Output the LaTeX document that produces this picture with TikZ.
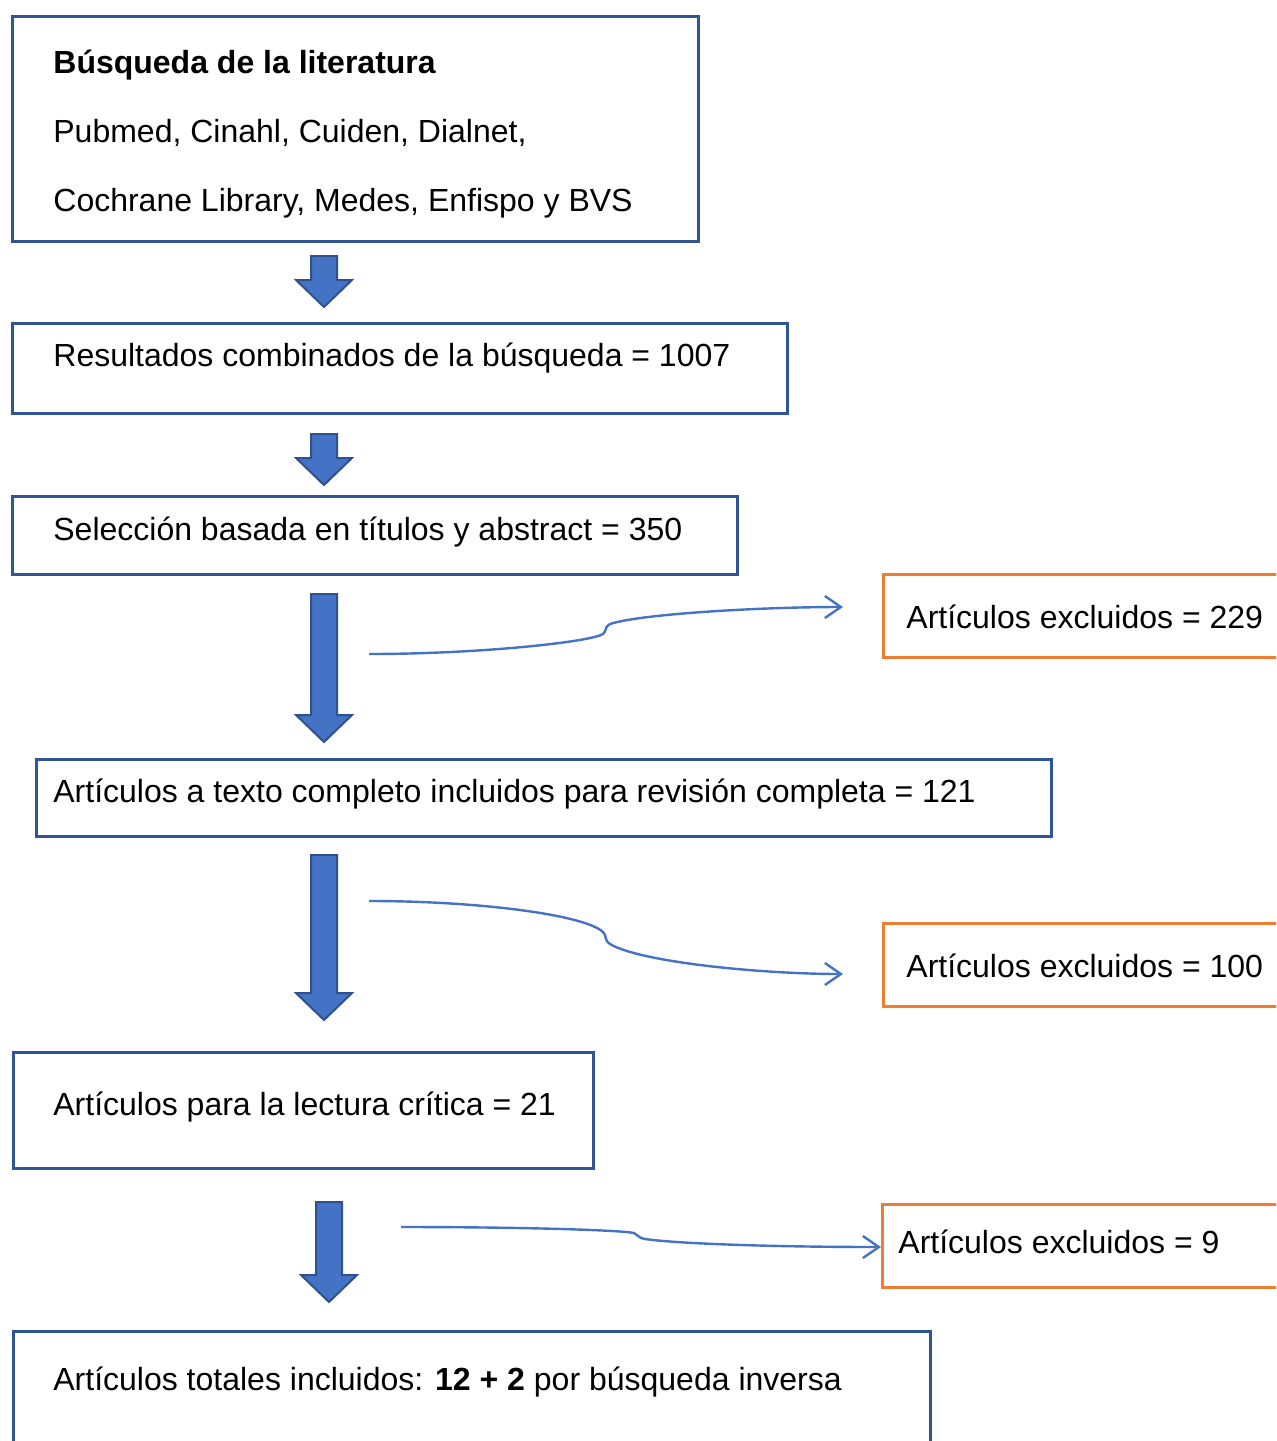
\documentclass[tikz,border=0pt]{standalone}
\usepackage{fontspec}
\setmainfont{Liberation Sans}
\usetikzlibrary{arrows.meta}

\definecolor{boxblue}{HTML}{2F5597}
\definecolor{fillblue}{HTML}{4472C4}
\definecolor{edgeblue}{HTML}{2F528F}
\definecolor{exclorange}{HTML}{ED7D31}

\tikzset{
  bluebox/.style={draw=boxblue, line width=1.5pt, rectangle, anchor=north west, inner sep=0pt},
  orangebox/.style={draw=exclorange, line width=1.5pt, rectangle, anchor=north west, inner sep=0pt},
  txt/.style={anchor=base west, inner sep=0pt, font=\fontsize{16pt}{19pt}\selectfont},
  bigarrow/.style={fill=fillblue, draw=edgeblue, line width=1pt, line join=miter},
  link/.style={draw=fillblue, line width=1.2pt, -{Straight Barb[length=8pt,width=11pt]}}
}

% name, x, top, tip
\newcommand{\blockarrow}[4]{%
  \draw[bigarrow] (#2-13,#3) -- (#2+13,#3) -- (#2+13,#4-27) -- (#2+28,#4-27)
    -- (#2,#4) -- (#2-28,#4-27) -- (#2-13,#4-27) -- cycle;
  \coordinate (#1) at (#2,#4);}

\begin{document}
\begin{tikzpicture}[x=0.5pt, y=-0.5pt]
\clip (0,0) rectangle (1276,1441);
\fill[white] (0,0) rectangle (1276,1441);

% main boxes
\node[bluebox, minimum width=343pt, minimum height=112.5pt] (busq) at (11,15) {};
\node[bluebox, minimum width=387.5pt, minimum height=45pt] (res) at (11,322) {};
\node[bluebox, minimum width=362.5pt, minimum height=39pt] (sel) at (11,495) {};
\node[bluebox, minimum width=507.5pt, minimum height=38.5pt] (comp) at (35,758) {};
\node[bluebox, minimum width=290pt, minimum height=58pt] (lect) at (12,1051) {};
\node[bluebox, minimum width=458.5pt, minimum height=75pt] (total) at (12,1330) {};

% excluded boxes
\node[orangebox, minimum width=210pt, minimum height=41.5pt] (excla) at (882,573) {};
\node[orangebox, minimum width=210pt, minimum height=41.5pt] (exclb) at (882,922) {};
\node[orangebox, minimum width=210pt, minimum height=41.5pt] (exclc) at (881,1203) {};

% texts
\node[txt] (busqA) at (53,73) {\textbf{Búsqueda de la literatura}};
\node[txt] (busqB) at (53,142) {Pubmed, Cinahl, Cuiden, Dialnet,};
\node[txt] (busqC) at (53,211) {Cochrane Library, Medes, Enfispo y BVS};
\node[txt] (resT) at (53,366) {Resultados combinados de la búsqueda = 1007};
\node[txt] (selT) at (53,540) {Selección basada en títulos y abstract = 350};
\node[txt] (compT) at (53,802) {Artículos a texto completo incluidos para revisión completa = 121};
\node[txt] (lectT) at (53,1115) {Artículos para la lectura crítica = 21};
\node[txt] (totalT) at (53,1390) {Artículos totales incluidos: \textbf{12 + 2} por búsqueda inversa};
\node[txt] (exclaT) at (906,628) {Artículos excluidos = 229};
\node[txt] (exclbT) at (906,977) {Artículos excluidos = 100};
\node[txt] (exclcT) at (898,1253) {Artículos excluidos = 9};

% block arrows
\blockarrow{arA}{324}{256}{307}
\blockarrow{arB}{324}{434}{485}
\blockarrow{arC}{324}{594}{742}
\blockarrow{arD}{324}{855}{1020}
\blockarrow{arE}{329}{1202}{1302}

% curved connectors
\coordinate (la) at (369,654);
\coordinate (lb) at (369,901);
\coordinate (lc) at (401,1227);
\coordinate (ea) at (843,607);
\coordinate (eb) at (843,974);
\draw[link] (la) .. controls (480,654) and (590,642) .. (603,634)
  .. controls (607,631) and (604,627) .. (610,624)
  .. controls (640,614) and (760,607) .. (ea);
\draw[link] (lb) .. controls (480,901) and (585,915) .. (603,932)
  .. controls (607,936) and (604,940) .. (610,944)
  .. controls (640,962) and (760,974) .. (eb);
\draw[link] (lc) .. controls (520,1227) and (620,1230) .. (634,1233)
  .. controls (638,1234) and (636,1237) .. (645,1239)
  .. controls (680,1244) and (780,1247) .. (exclc.west |- 0,1247);

\end{tikzpicture}
\end{document}
